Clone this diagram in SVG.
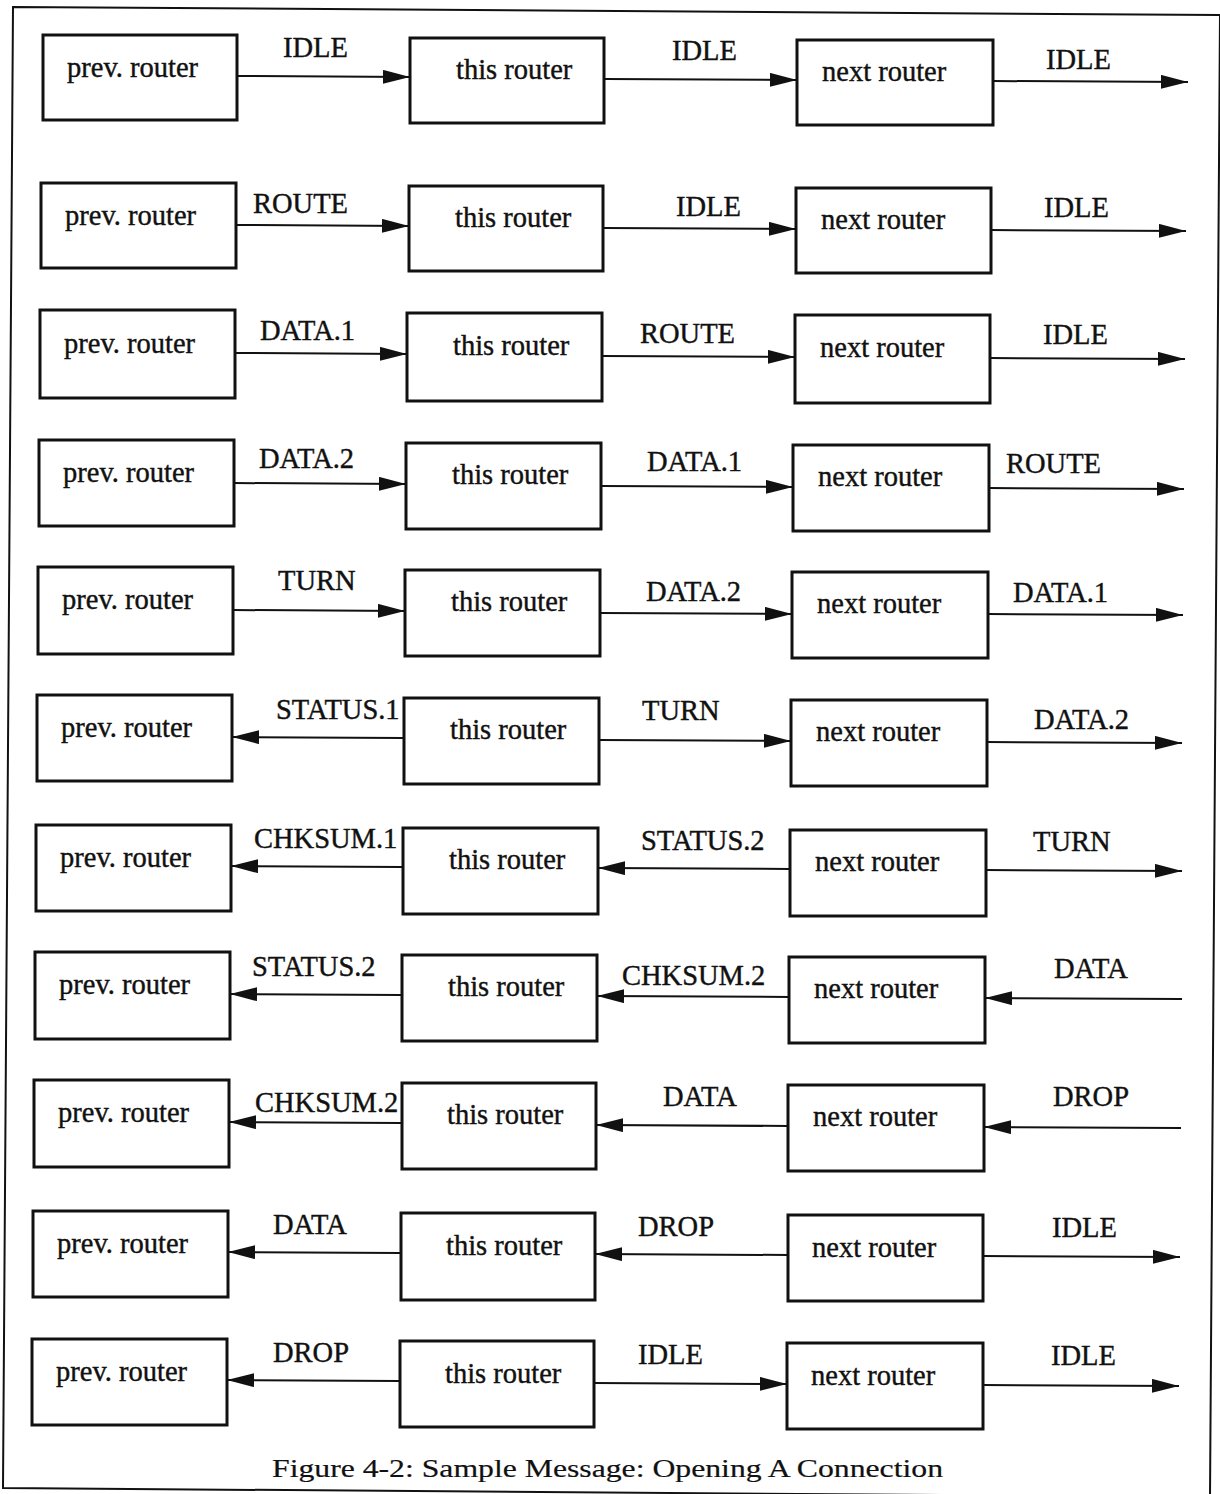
<svg xmlns="http://www.w3.org/2000/svg" width="1220" height="1494" viewBox="0 0 1220 1494">
<style>
.box{fill:#fff;stroke:#111;stroke-width:3}
.t{font-family:"Liberation Serif","Times New Roman",serif;font-size:28.5px;fill:#111;stroke:#111;stroke-width:0.4}
.cap{font-family:"Liberation Serif","Times New Roman",serif;font-size:26px;fill:#111;stroke:#111;stroke-width:0.2}
.c{stroke:#111;stroke-width:2;fill:none;marker-end:url(#ah)}
.frame{fill:none;stroke:#111;stroke-width:2}
</style>
<defs>
<marker id="ah" markerUnits="userSpaceOnUse" markerWidth="28" markerHeight="15" refX="27" refY="7" orient="auto">
<path d="M0,0 L27,7 L0,14 z" fill="#111"/>
</marker>
</defs>
<rect width="1220" height="1494" fill="#fff"/>
<polygon class="frame" points="13,7 1220,15 1210,1497 3,1488"/>

<g id="nodes">
<g id="r1"><rect class="box" x="43" y="35" width="194" height="85"/><text class="t" x="67" y="77">prev. router</text>
<rect class="box" x="410" y="38" width="194" height="85"/><text class="t" x="456" y="79">this router</text>
<rect class="box" x="797" y="40" width="196" height="85"/><text class="t" x="822" y="81">next router</text></g>
<g id="r2"><rect class="box" x="41" y="183" width="195" height="85"/><text class="t" x="65" y="225">prev. router</text>
<rect class="box" x="409" y="186" width="194" height="85"/><text class="t" x="455" y="227">this router</text>
<rect class="box" x="796" y="188" width="195" height="85"/><text class="t" x="821" y="229">next router</text></g>
<g id="r3"><rect class="box" x="40" y="310" width="195" height="88"/><text class="t" x="64" y="353">prev. router</text>
<rect class="box" x="407" y="313" width="195" height="88"/><text class="t" x="453" y="355">this router</text>
<rect class="box" x="795" y="315" width="195" height="88"/><text class="t" x="820" y="357">next router</text></g>
<g id="r4"><rect class="box" x="39" y="440" width="195" height="86"/><text class="t" x="63" y="482">prev. router</text>
<rect class="box" x="406" y="443" width="195" height="86"/><text class="t" x="452" y="484">this router</text>
<rect class="box" x="793" y="445" width="196" height="86"/><text class="t" x="818" y="486">next router</text></g>
<g id="r5"><rect class="box" x="38" y="567" width="195" height="87"/><text class="t" x="62" y="609">prev. router</text>
<rect class="box" x="405" y="570" width="195" height="86"/><text class="t" x="451" y="611">this router</text>
<rect class="box" x="792" y="572" width="196" height="86"/><text class="t" x="817" y="613">next router</text></g>
<g id="r6"><rect class="box" x="37" y="695" width="195" height="86"/><text class="t" x="61" y="737">prev. router</text>
<rect class="box" x="404" y="698" width="195" height="86"/><text class="t" x="450" y="739">this router</text>
<rect class="box" x="791" y="700" width="196" height="86"/><text class="t" x="816" y="741">next router</text></g>
<g id="r7"><rect class="box" x="36" y="825" width="195" height="86"/><text class="t" x="60" y="867">prev. router</text>
<rect class="box" x="403" y="828" width="195" height="86"/><text class="t" x="449" y="869">this router</text>
<rect class="box" x="790" y="830" width="196" height="86"/><text class="t" x="815" y="871">next router</text></g>
<g id="r8"><rect class="box" x="35" y="952" width="195" height="87"/><text class="t" x="59" y="994">prev. router</text>
<rect class="box" x="402" y="955" width="195" height="86"/><text class="t" x="448" y="996">this router</text>
<rect class="box" x="789" y="957" width="196" height="86"/><text class="t" x="814" y="998">next router</text></g>
<g id="r9"><rect class="box" x="34" y="1080" width="195" height="87"/><text class="t" x="58" y="1122">prev. router</text>
<rect class="box" x="402" y="1083" width="194" height="86"/><text class="t" x="447" y="1124">this router</text>
<rect class="box" x="788" y="1085" width="196" height="86"/><text class="t" x="813" y="1126">next router</text></g>
<g id="r10"><rect class="box" x="33" y="1211" width="195" height="86"/><text class="t" x="57" y="1253">prev. router</text>
<rect class="box" x="401" y="1213" width="194" height="87"/><text class="t" x="446" y="1255">this router</text>
<rect class="box" x="788" y="1215" width="195" height="86"/><text class="t" x="812" y="1257">next router</text></g>
<g id="r11"><rect class="box" x="32" y="1339" width="195" height="86"/><text class="t" x="56" y="1381">prev. router</text>
<rect class="box" x="400" y="1341" width="194" height="86"/><text class="t" x="445" y="1383">this router</text>
<rect class="box" x="787" y="1343" width="196" height="86"/><text class="t" x="811" y="1385">next router</text></g>
</g>

<g id="connectors">
<line class="c" x1="237" y1="76" x2="410" y2="77"/>
<line class="c" x1="604" y1="79" x2="797" y2="80"/>
<line class="c" x1="993" y1="81" x2="1188" y2="82"/>
<line class="c" x1="236" y1="225" x2="409" y2="226"/>
<line class="c" x1="603" y1="228" x2="796" y2="229"/>
<line class="c" x1="991" y1="230" x2="1186" y2="231"/>
<line class="c" x1="235" y1="353" x2="407" y2="354"/>
<line class="c" x1="602" y1="356" x2="795" y2="357"/>
<line class="c" x1="990" y1="358" x2="1185" y2="359"/>
<line class="c" x1="234" y1="483" x2="406" y2="484"/>
<line class="c" x1="601" y1="486" x2="793" y2="487"/>
<line class="c" x1="989" y1="488" x2="1184" y2="489"/>
<line class="c" x1="233" y1="610" x2="405" y2="611"/>
<line class="c" x1="600" y1="613" x2="792" y2="614"/>
<line class="c" x1="988" y1="614" x2="1183" y2="615"/>
<line class="c" x1="404" y1="738" x2="232" y2="737"/>
<line class="c" x1="599" y1="740" x2="791" y2="741"/>
<line class="c" x1="987" y1="742" x2="1182" y2="743"/>
<line class="c" x1="403" y1="867" x2="231" y2="866"/>
<line class="c" x1="790" y1="869" x2="598" y2="868"/>
<line class="c" x1="986" y1="870" x2="1182" y2="871"/>
<line class="c" x1="402" y1="995" x2="230" y2="994"/>
<line class="c" x1="789" y1="997" x2="597" y2="996"/>
<line class="c" x1="1182" y1="999" x2="985" y2="998"/>
<line class="c" x1="402" y1="1123" x2="229" y2="1122"/>
<line class="c" x1="788" y1="1126" x2="596" y2="1125"/>
<line class="c" x1="1181" y1="1128" x2="984" y2="1127"/>
<line class="c" x1="401" y1="1253" x2="228" y2="1252"/>
<line class="c" x1="788" y1="1255" x2="595" y2="1254"/>
<line class="c" x1="983" y1="1256" x2="1180" y2="1257"/>
<line class="c" x1="400" y1="1381" x2="227" y2="1380"/>
<line class="c" x1="594" y1="1383" x2="787" y2="1384"/>
<line class="c" x1="983" y1="1385" x2="1179" y2="1386"/>

<g id="labels">
<text class="t" x="283" y="57">IDLE</text>
<text class="t" x="672" y="60">IDLE</text>
<text class="t" x="1046" y="69">IDLE</text>
<text class="t" x="253" y="213">ROUTE</text>
<text class="t" x="676" y="216">IDLE</text>
<text class="t" x="1044" y="217">IDLE</text>
<text class="t" x="260" y="340">DATA.1</text>
<text class="t" x="640" y="343">ROUTE</text>
<text class="t" x="1043" y="344">IDLE</text>
<text class="t" x="259" y="468">DATA.2</text>
<text class="t" x="647" y="471">DATA.1</text>
<text class="t" x="1006" y="473">ROUTE</text>
<text class="t" x="278" y="590">TURN</text>
<text class="t" x="646" y="601">DATA.2</text>
<text class="t" x="1013" y="602">DATA.1</text>
<text class="t" x="276" y="719">STATUS.1</text>
<text class="t" x="642" y="720">TURN</text>
<text class="t" x="1034" y="729">DATA.2</text>
<text class="t" x="254" y="848">CHKSUM.1</text>
<text class="t" x="641" y="850">STATUS.2</text>
<text class="t" x="1033" y="851">TURN</text>
<text class="t" x="252" y="976">STATUS.2</text>
<text class="t" x="622" y="985">CHKSUM.2</text>
<text class="t" x="1054" y="978">DATA</text>
<text class="t" x="255" y="1112">CHKSUM.2</text>
<text class="t" x="663" y="1106">DATA</text>
<text class="t" x="1053" y="1106">DROP</text>
<text class="t" x="273" y="1234">DATA</text>
<text class="t" x="638" y="1236">DROP</text>
<text class="t" x="1052" y="1237">IDLE</text>
<text class="t" x="273" y="1362">DROP</text>
<text class="t" x="638" y="1364">IDLE</text>
<text class="t" x="1051" y="1365">IDLE</text>
</g>
</g>

<text class="cap" x="272" y="1477" textLength="671" lengthAdjust="spacingAndGlyphs">Figure 4-2: Sample Message: Opening A Connection</text>
</svg>
